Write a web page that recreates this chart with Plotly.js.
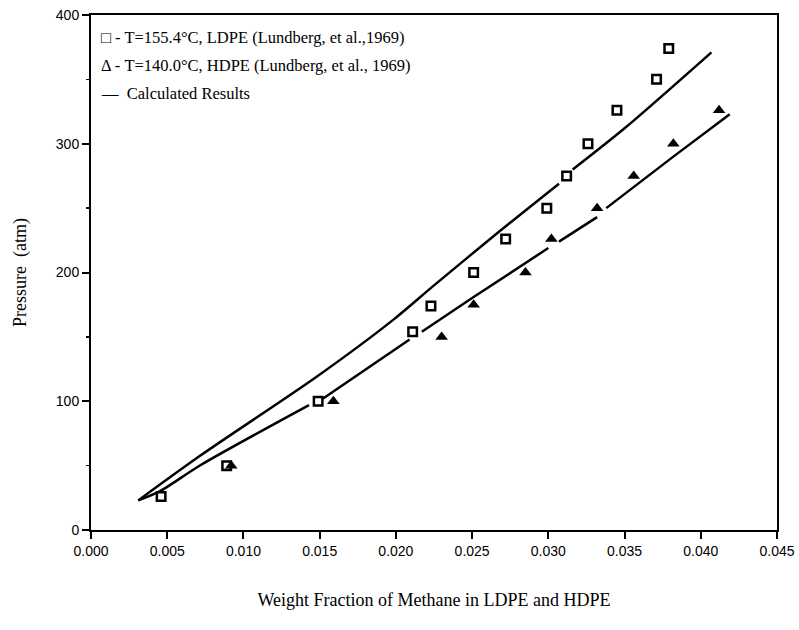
<!DOCTYPE html>
<html>
<head>
<meta charset="utf-8">
<script src="https://cdn.plot.ly/plotly-3.0.1.min.js"></script>
<style>body{margin:0;background:#fff}#chart{width:799px;height:630px}</style>
</head>
<body>
<div id="chart"></div>
<script>
// Experimental data: LDPE at 155.4 C
const ldpeX = [0.0046, 0.0089, 0.0149, 0.0211, 0.0223, 0.0251, 0.0272, 0.0299, 0.0312, 0.0326, 0.0345, 0.0371, 0.0379];
const ldpeY = [26, 50, 100, 154, 174, 200, 226, 250, 275, 300, 326, 350, 374];
// Experimental data: HDPE at 140.0 C
const hdpeX = [0.0092, 0.0159, 0.0230, 0.0251, 0.0285, 0.0302, 0.0332, 0.0356, 0.0382, 0.0412];
const hdpeY = [50, 100, 150, 175, 200, 226, 250, 275, 300, 326];
// Calculated results (upper curve = LDPE, lower curve = HDPE); null = break in the printed line
const calcLdpeX = [0.0031, 0.0072, 0.0148, 0.0198, 0.0225, 0.0268, 0.0307, null, 0.0316, 0.0350, 0.0407];
const calcLdpeY = [23, 58, 119, 163, 190, 232, 269, null, 280, 312, 371];
const calcHdpeX = [0.0031, 0.0045, 0.0072, 0.0143, null, 0.0152, 0.0209, null, 0.0217, 0.0251, 0.0300, null, 0.0307, 0.0332, null, 0.0338, 0.0382, 0.0419];
const calcHdpeY = [23, 30, 50.5, 97, null, 102, 148, null, 154, 181, 219, null, 224, 243, null, 250, 290, 323];
// Text
const legendLabels = [
  "\u25A1 - T=155.4\u00B0C, LDPE (Lundberg, et al.,1969)",
  "\u0394 - T=140.0\u00B0C, HDPE (Lundberg, et al., 1969)",
  "\u2014  Calculated Results"
];
const xTitle = "Weight Fraction of Methane in LDPE and HDPE";
const yTitle = "Pressure  (atm)";
const xTickVals = [0, 0.005, 0.01, 0.015, 0.02, 0.025, 0.03, 0.035, 0.04, 0.045];
const xTickText = ["0.000","0.005","0.010","0.015","0.020","0.025","0.030","0.035","0.040","0.045"];
const yTickVals = [0, 100, 200, 300, 400];

const lineStyle = {color: '#000', width: 2.5, shape: 'spline', smoothing: 0.8};
const traces = [
  {x: calcLdpeX, y: calcLdpeY, mode: 'lines', line: lineStyle, connectgaps: false},
  {x: calcHdpeX, y: calcHdpeY, mode: 'lines', line: lineStyle, connectgaps: false},
  {x: ldpeX, y: ldpeY, mode: 'markers',
   marker: {symbol: 'square-open', size: 8.5, color: '#000', line: {width: 2.5, color: '#000'}}},
  {x: hdpeX, y: hdpeY, mode: 'markers',
   marker: {symbol: 'triangle-up', size: 11, color: '#000', line: {width: 0}}}
];

const serif = "'Liberation Serif', 'Times New Roman', serif";
const annotations = legendLabels.map((t, i) => ({
  xref: 'paper', yref: 'paper', x: 0.011, y: 0.956 - i * 0.054,
  xanchor: 'left', yanchor: 'middle', showarrow: false, text: t,
  font: {family: serif, size: 16.5, color: '#000'}
}));

const layout = {
  width: 799, height: 630,
  margin: {l: 91, r: 22, t: 15, b: 100},
  paper_bgcolor: '#fff', plot_bgcolor: '#fff',
  showlegend: false,
  font: {family: "'Liberation Sans', Arial, sans-serif", size: 14, color: '#000'},
  xaxis: {
    range: [0, 0.045], tickvals: xTickVals, ticktext: xTickText,
    showgrid: false, zeroline: false, showline: true, linecolor: '#000', linewidth: 2,
    mirror: true, ticks: 'outside', ticklen: 7, tickwidth: 2, tickcolor: '#000',
    tickfont: {family: "'Liberation Sans', Arial, sans-serif", size: 14, color: '#000'},
    title: {text: xTitle, font: {family: serif, size: 18, color: '#000'}, standoff: 36}
  },
  yaxis: {
    range: [0, 400], tickvals: yTickVals,
    showgrid: false, zeroline: false, showline: true, linecolor: '#000', linewidth: 2,
    mirror: true, ticks: 'outside', ticklen: 7, tickwidth: 2, tickcolor: '#000',
    minor: {dtick: 50, ticks: 'outside', ticklen: 3, tickwidth: 1.5, tickcolor: '#000', showgrid: false},
    tickfont: {family: "'Liberation Sans', Arial, sans-serif", size: 14, color: '#000'},
    title: {text: yTitle, font: {family: serif, size: 18, color: '#000'}, standoff: 25}
  },
  annotations: annotations
};

Plotly.newPlot('chart', traces, layout, {staticPlot: true});
</script>
</body>
</html>
